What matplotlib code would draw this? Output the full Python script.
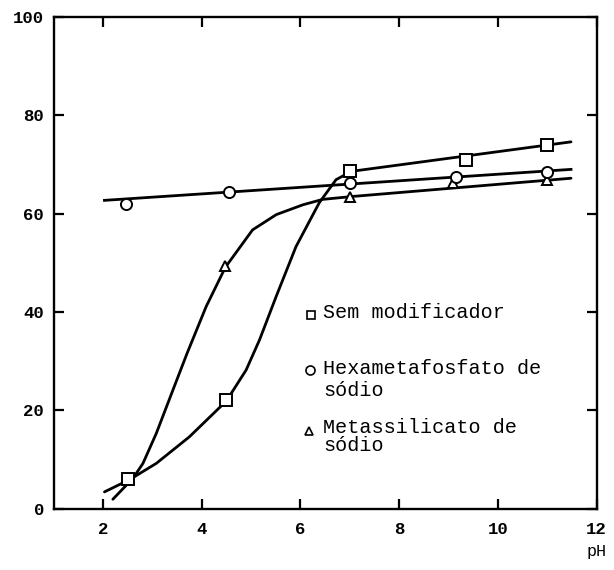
import numpy as np
import matplotlib
matplotlib.use('Agg')
import matplotlib.pyplot as plt

plt.rcParams['font.family'] = ['Liberation Mono', 'DejaVu Sans Mono']

# measured points
sem_x = [2.5, 4.5, 7.0, 9.35, 11.0]
sem_y = [6.0, 22.0, 68.6, 70.9, 74.0]
hexa_x = [2.47, 4.55, 7.0, 9.15, 11.0]
hexa_y = [62.0, 64.5, 66.2, 67.4, 68.4]
meta_x = [2.5, 4.48, 7.0, 9.08, 11.0]
meta_y = [6.0, 49.3, 63.4, 66.2, 66.8]

# hand drawn curves
sem_cx = [2.03, 2.54, 3.08, 3.75, 4.5, 4.9, 5.17, 5.51, 5.91, 6.38, 6.72, 7.03, 11.48]
sem_cy = [3.4, 5.9, 9.2, 14.6, 21.9, 28.2, 34.3, 43.2, 53.3, 62.2, 66.9, 68.6, 74.6]
hexa_cx = [2.03, 11.48]
hexa_cy = [62.7, 69.0]
meta_cx = [2.2, 2.61, 2.81, 3.08, 3.42, 3.70, 4.09, 4.48, 5.03, 5.51, 6.05, 6.45, 7.06, 11.48]
meta_cy = [1.9, 6.2, 9.2, 15.3, 24.2, 31.5, 41.1, 49.1, 56.7, 59.8, 61.8, 62.9, 63.5, 67.2]

xticks = [2, 4, 6, 8, 10, 12]
yticks = [0, 20, 40, 60, 80, 100]

fig = plt.figure(figsize=(6.14, 5.70), dpi=100)
ax = fig.add_axes([0.0873, 0.1077, 0.8845, 0.8625])

lw = 2.0
ax.plot(sem_cx, sem_cy, color='k', lw=lw, solid_capstyle='round', solid_joinstyle='round')
ax.plot(hexa_cx, hexa_cy, color='k', lw=lw)
ax.plot(meta_cx, meta_cy, color='k', lw=lw, solid_capstyle='round', solid_joinstyle='round')

mk = dict(linestyle='none', markerfacecolor='white', markeredgecolor='k', markeredgewidth=1.4, zorder=5)
ax.plot(meta_x, meta_y, marker='^', markersize=7, **mk)
ax.plot(hexa_x, hexa_y, marker='o', markersize=8, **mk)
ax.plot(sem_x, sem_y, marker='s', markersize=8, **mk)

ax.set_xlim(1, 12)
ax.set_ylim(0, 100)
ax.set_xticks(xticks)
ax.set_yticks(yticks)
ax.tick_params(direction='in', length=7, width=1.6, top=True, right=True,
               labelsize=12.5)
ax.tick_params(axis='x', pad=10)
ax.tick_params(axis='y', pad=7)
for lab in ax.get_xticklabels() + ax.get_yticklabels():
    lab.set_fontweight('bold')
for s in ax.spines.values():
    s.set_linewidth(1.7)

# legend drawn by hand like the original
lk = dict(transform=ax.transAxes, linestyle='none', markerfacecolor='white',
          markeredgecolor='k', markeredgewidth=1.2, clip_on=False)
ax.plot([0.474], [0.394], marker='s', markersize=6, **lk)
ax.plot([0.472], [0.282], marker='o', markersize=6.5, **lk)
ax.plot([0.470], [0.158], marker='^', markersize=6, **lk)
ax.text(0.496, 0.398, 'Sem modificador', transform=ax.transAxes,
        fontsize=14.5, va='center', ha='left')
ax.text(0.496, 0.262, 'Hexametafosfato de\nsódio', transform=ax.transAxes,
        fontsize=14.5, va='center', ha='left', linespacing=1.2)
ax.text(0.496, 0.146, 'Metassilicato de\nsódio', transform=ax.transAxes,
        fontsize=14.5, va='center', ha='left', linespacing=0.95)

fig.text(0.972, 0.0316, 'pH', fontsize=12, ha='center', va='center',
         family='Liberation Mono')

fig.savefig('out.png', dpi=100)
